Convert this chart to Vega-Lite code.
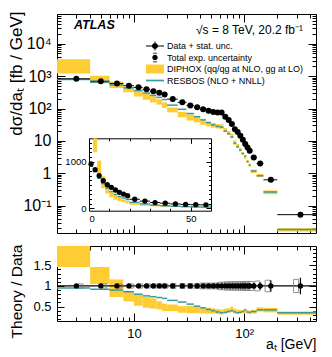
{
  "$schema": "https://vega.github.io/schema/vega-lite/v6.json",
  "background": "white",
  "padding": {"left": 6, "top": 10, "right": 5, "bottom": 5},
  "config": {
    "font": "Liberation Sans",
    "view": {"stroke": "black", "strokeWidth": 1},
    "axis": {"domain": false, "grid": false, "labelColor": "black", "titleColor": "black", "tickColor": "black", "titleFontWeight": "normal", "tickWidth": 1, "domainColor": "black", "domainWidth": 1},
    "title": {"font": "Liberation Sans"}
  },
  "datasets": {
    "bins": [
      {"lo": 0, "hi": 2, "c": 1, "v": 950, "dlo": null, "dhi": null, "res": 900, "rdlo": null, "rdhi": null, "rres": null, "elo": null, "ehi": null, "tlo": null, "thi": null},
      {"lo": 2, "hi": 4, "c": 3, "v": 828, "dlo": 1209, "dhi": 3312, "res": 787, "rdlo": 1.46, "rdhi": 4.0, "rres": 0.95, "elo": 0.99, "ehi": 1.01, "tlo": 0.95, "thi": 1.05},
      {"lo": 4, "hi": 6, "c": 5, "v": 700, "dlo": 735, "dhi": 1022, "res": 644, "rdlo": 1.05, "rdhi": 1.46, "rres": 0.92, "elo": 0.99, "ehi": 1.01, "tlo": 0.95, "thi": 1.05},
      {"lo": 6, "hi": 8, "c": 7, "v": 592, "dlo": 432, "dhi": 687, "res": 533, "rdlo": 0.73, "rdhi": 1.16, "rres": 0.90, "elo": 0.99, "ehi": 1.01, "tlo": 0.95, "thi": 1.05},
      {"lo": 8, "hi": 10, "c": 9, "v": 506, "dlo": 319, "dhi": 440, "res": 435, "rdlo": 0.63, "rdhi": 0.87, "rres": 0.86, "elo": 0.99, "ehi": 1.01, "tlo": 0.95, "thi": 1.05},
      {"lo": 10, "hi": 12, "c": 11, "v": 450, "dlo": 234, "dhi": 356, "res": 360, "rdlo": 0.52, "rdhi": 0.79, "rres": 0.80, "elo": 0.99, "ehi": 1.01, "tlo": 0.95, "thi": 1.05},
      {"lo": 12, "hi": 14, "c": 13, "v": 393, "dlo": 185, "dhi": 287, "res": 299, "rdlo": 0.47, "rdhi": 0.73, "rres": 0.76, "elo": 0.99, "ehi": 1.01, "tlo": 0.95, "thi": 1.05},
      {"lo": 14, "hi": 16, "c": 15, "v": 343, "dlo": 154, "dhi": 240, "res": 254, "rdlo": 0.45, "rdhi": 0.70, "rres": 0.74, "elo": 0.99, "ehi": 1.01, "tlo": 0.95, "thi": 1.05},
      {"lo": 16, "hi": 18, "c": 17, "v": 307, "dlo": 132, "dhi": 193, "res": 221, "rdlo": 0.43, "rdhi": 0.63, "rres": 0.72, "elo": 0.99, "ehi": 1.01, "tlo": 0.95, "thi": 1.05},
      {"lo": 18, "hi": 20, "c": 19, "v": 270, "dlo": 105, "dhi": 154, "res": 189, "rdlo": 0.39, "rdhi": 0.57, "rres": 0.70, "elo": 0.99, "ehi": 1.01, "tlo": 0.95, "thi": 1.05},
      {"lo": 20, "hi": 25, "c": 22.5, "v": 195, "dlo": 76, "dhi": 107, "res": 127, "rdlo": 0.39, "rdhi": 0.55, "rres": 0.65, "elo": 0.985, "ehi": 1.015, "tlo": 0.94, "thi": 1.06},
      {"lo": 25, "hi": 30, "c": 27.5, "v": 155, "dlo": 54, "dhi": 79, "res": 94.6, "rdlo": 0.35, "rdhi": 0.51, "rres": 0.61, "elo": 0.985, "ehi": 1.015, "tlo": 0.94, "thi": 1.06},
      {"lo": 30, "hi": 35, "c": 32.5, "v": 125, "dlo": 42.5, "dhi": 65, "res": 70, "rdlo": 0.34, "rdhi": 0.52, "rres": 0.56, "elo": 0.985, "ehi": 1.015, "tlo": 0.94, "thi": 1.06},
      {"lo": 35, "hi": 40, "c": 37.5, "v": 110, "dlo": 37.4, "dhi": 55, "res": 56, "rdlo": 0.34, "rdhi": 0.50, "rres": 0.51, "elo": 0.985, "ehi": 1.015, "tlo": 0.94, "thi": 1.06},
      {"lo": 40, "hi": 45, "c": 42.5, "v": 95, "dlo": 31.4, "dhi": 45.6, "res": 44.7, "rdlo": 0.33, "rdhi": 0.48, "rres": 0.47, "elo": 0.98, "ehi": 1.02, "tlo": 0.93, "thi": 1.07},
      {"lo": 45, "hi": 50, "c": 47.5, "v": 85, "dlo": 28, "dhi": 40, "res": 36.6, "rdlo": 0.33, "rdhi": 0.47, "rres": 0.43, "elo": 0.98, "ehi": 1.02, "tlo": 0.93, "thi": 1.07},
      {"lo": 50, "hi": 55, "c": 52.5, "v": 78, "dlo": 25.7, "dhi": 35.9, "res": 31.2, "rdlo": 0.33, "rdhi": 0.46, "rres": 0.40, "elo": 0.98, "ehi": 1.02, "tlo": 0.93, "thi": 1.07},
      {"lo": 55, "hi": 60, "c": 57.5, "v": 76, "dlo": 24.3, "dhi": 33.4, "res": 28.1, "rdlo": 0.32, "rdhi": 0.44, "rres": 0.37, "elo": 0.98, "ehi": 1.02, "tlo": 0.93, "thi": 1.07},
      {"lo": 60, "hi": 65, "c": 62.5, "v": 76, "dlo": 23.6, "dhi": 32.7, "res": 26.6, "rdlo": 0.31, "rdhi": 0.43, "rres": 0.35, "elo": 0.975, "ehi": 1.025, "tlo": 0.91, "thi": 1.09},
      {"lo": 65, "hi": 70, "c": 67.5, "v": 56, "dlo": 18.5, "dhi": 25.2, "res": 20.2, "rdlo": 0.33, "rdhi": 0.45, "rres": 0.36, "elo": 0.975, "ehi": 1.025, "tlo": 0.91, "thi": 1.09},
      {"lo": 70, "hi": 75, "c": 72.5, "v": 44, "dlo": 15.4, "dhi": 20.2, "res": 16.7, "rdlo": 0.35, "rdhi": 0.46, "rres": 0.38, "elo": 0.97, "ehi": 1.03, "tlo": 0.9, "thi": 1.1},
      {"lo": 75, "hi": 80, "c": 77.5, "v": 33, "dlo": 12.2, "dhi": 16.5, "res": 13.2, "rdlo": 0.37, "rdhi": 0.50, "rres": 0.40, "elo": 0.97, "ehi": 1.03, "tlo": 0.9, "thi": 1.1},
      {"lo": 80, "hi": 85, "c": 82.5, "v": 23, "dlo": 7.6, "dhi": 10.4, "res": 8.5, "rdlo": 0.33, "rdhi": 0.45, "rres": 0.37, "elo": 0.97, "ehi": 1.03, "tlo": 0.9, "thi": 1.1},
      {"lo": 85, "hi": 90, "c": 87.5, "v": 18.8, "dlo": 6.0, "dhi": 8.1, "res": 6.6, "rdlo": 0.32, "rdhi": 0.43, "rres": 0.35, "elo": 0.965, "ehi": 1.035, "tlo": 0.9, "thi": 1.1},
      {"lo": 90, "hi": 95, "c": 92.5, "v": 14.5, "dlo": 4.8, "dhi": 6.1, "res": 5.2, "rdlo": 0.33, "rdhi": 0.42, "rres": 0.36, "elo": 0.96, "ehi": 1.04, "tlo": 0.9, "thi": 1.1},
      {"lo": 95, "hi": 100, "c": 97.5, "v": 10.8, "dlo": 3.7, "dhi": 4.5, "res": 4.1, "rdlo": 0.34, "rdhi": 0.42, "rres": 0.38, "elo": 0.96, "ehi": 1.04, "tlo": 0.9, "thi": 1.1},
      {"lo": 100, "hi": 105, "c": 102.5, "v": 8.0, "dlo": 2.8, "dhi": 3.4, "res": 3.4, "rdlo": 0.35, "rdhi": 0.43, "rres": 0.42, "elo": 0.95, "ehi": 1.05, "tlo": 0.9, "thi": 1.1},
      {"lo": 105, "hi": 110, "c": 107.5, "v": 6.3, "dlo": 2.1, "dhi": 2.6, "res": 2.3, "rdlo": 0.33, "rdhi": 0.41, "rres": 0.37, "elo": 0.95, "ehi": 1.05, "tlo": 0.9, "thi": 1.1},
      {"lo": 110, "hi": 115, "c": 112.5, "v": 5.0, "dlo": 1.6, "dhi": 2.0, "res": 1.8, "rdlo": 0.32, "rdhi": 0.40, "rres": 0.36, "elo": 0.94, "ehi": 1.06, "tlo": 0.89, "thi": 1.11},
      {"lo": 115, "hi": 130, "c": 122.5, "v": 3.1, "dlo": 1.02, "dhi": 1.30, "res": 1.18, "rdlo": 0.33, "rdhi": 0.42, "rres": 0.38, "elo": 0.93, "ehi": 1.07, "tlo": 0.89, "thi": 1.11},
      {"lo": 130, "hi": 150, "c": 140, "v": 2.0, "dlo": 0.76, "dhi": 0.96, "res": 0.84, "rdlo": 0.38, "rdhi": 0.48, "rres": 0.42, "elo": 0.91, "ehi": 1.09, "tlo": 0.88, "thi": 1.12},
      {"lo": 150, "hi": 200, "c": 175, "v": 0.63, "dlo": 0.227, "dhi": 0.296, "res": 0.265, "rdlo": 0.36, "rdhi": 0.47, "rres": 0.42, "elo": 0.86, "ehi": 1.14, "tlo": 0.86, "thi": 1.14},
      {"lo": 200, "hi": 450, "c": 325, "v": 0.053, "dlo": 0.0159, "dhi": 0.0201, "res": 0.0186, "rdlo": 0.30, "rdhi": 0.38, "rres": 0.35, "elo": 0.8, "ehi": 1.2, "tlo": 0.84, "thi": 1.16}
    ],
    "legend": [
      {"series": "Data + stat. unc."},
      {"series": "Total exp. uncertainty"},
      {"series": "DIPHOX (qq/qg at NLO, gg at LO)"},
      {"series": "RESBOS (NLO + NNLL)"}
    ],
    "one": [{"x": 10, "y": 1}],
    "insetone": [{"x": 30, "y": 500}]
  },
  "spacing": 9,
  "vconcat": [
    {
      "width": 259,
      "height": 219,
      "title": {"text": "ATLAS", "frame": "group", "anchor": "start", "offset": -26, "dx": 17, "baseline": "middle", "fontSize": 12.5, "fontStyle": "italic", "fontWeight": "bold", "color": "black", "font": "Liberation Sans"},
      "layer": [
        {
          "data": {"name": "bins"},
          "transform": [{"filter": "datum.lo >= 2"}],
          "mark": {"type": "rect", "color": "#ffcc33"},
          "encoding": {
            "x": {"field": "lo", "type": "quantitative", "scale": {"type": "log", "domain": [2, 450], "nice": false}, "axis": null},
            "x2": {"field": "hi"},
            "y": {"field": "dlo", "type": "quantitative", "scale": {"type": "log", "domain": [0.0144, 82600], "nice": false},
              "axis": {"orient": "left", "values": [0.1, 1, 10, 100, 1000, 10000], "ticks": false,
                "labelExpr": "datum.value === 0.1 ? '10⁻¹' : datum.value === 1 ? '1' : datum.value === 10 ? '10' : datum.value === 100 ? '10²' : datum.value === 1000 ? '10³' : '10⁴'",
                "labelFontSize": 16, "labelPadding": 6, "labelFont": "Liberation Sans",
                "title": "dσ/daₜ [fb / GeV]", "titleFont": "Liberation Sans", "titleFontSize": 17, "titleAnchor": "end", "titleX": -41, "titleY": -3, "titleBaseline": "middle"}},
            "y2": {"field": "dhi"}
          }
        },
        {
          "data": {"name": "bins"},
          "transform": [{"filter": "datum.lo >= 2"}],
          "mark": {"type": "rule", "color": "#3a9a9a", "strokeWidth": 1.5},
          "encoding": {
            "x": {"field": "lo", "type": "quantitative", "scale": {"type": "log", "domain": [2, 450], "nice": false}, "axis": null},
            "x2": {"field": "hi"},
            "y": {"field": "res", "type": "quantitative", "scale": {"type": "log", "domain": [0.0144, 82600], "nice": false}, "axis": null}
          }
        },
        {
          "data": {"name": "bins"},
          "transform": [{"filter": "datum.lo >= 2"}],
          "mark": {"type": "rule", "color": "black", "strokeWidth": 1},
          "encoding": {
            "x": {"field": "lo", "type": "quantitative", "scale": {"type": "log", "domain": [2, 450], "nice": false}, "axis": null},
            "x2": {"field": "hi"},
            "y": {"field": "v", "type": "quantitative", "scale": {"type": "log", "domain": [0.0144, 82600], "nice": false}, "axis": null}
          }
        },
        {
          "data": {"name": "bins"},
          "transform": [{"filter": "datum.lo >= 2"}],
          "mark": {"type": "point", "filled": true, "color": "black", "size": 36, "opacity": 1},
          "encoding": {
            "x": {"field": "c", "type": "quantitative", "scale": {"type": "log", "domain": [2, 450], "nice": false}, "axis": null},
            "y": {"field": "v", "type": "quantitative", "scale": {"type": "log", "domain": [0.0144, 82600], "nice": false}, "axis": null}
          }
        },
        {
          "data": {"name": "legend"},
          "mark": {"type": "point", "filled": true, "opacity": 0},
          "encoding": {
            "color": {"field": "series", "type": "nominal",
              "scale": {"domain": ["Data + stat. unc.", "Total exp. uncertainty", "DIPHOX (qq/qg at NLO, gg at LO)", "RESBOS (NLO + NNLL)"], "range": ["black", "black", "#ffcc33", "#3a9a9a"]},
              "legend": {"orient": "none", "legendX": 92, "legendY": 11, "title": "√s = 8 TeV, 20.2 fb⁻¹", "titleFont": "Liberation Sans", "titleFontSize": 12, "titleFontWeight": "normal", "titleAnchor": "end", "titlePadding": 3, "titleLimit": 400, "titleColor": "black", "labelFont": "Liberation Sans", "labelFontSize": 9, "labelOffset": 6, "labelLimit": 400, "labelColor": "black", "symbolSize": 144, "symbolStrokeWidth": 0, "symbolOpacity": 1, "rowPadding": 0.5, "padding": 0}},
            "shape": {"field": "series", "type": "nominal",
              "scale": {"domain": ["Data + stat. unc.", "Total exp. uncertainty", "DIPHOX (qq/qg at NLO, gg at LO)", "RESBOS (NLO + NNLL)"],
                "range": ["M-1.5,-0.08H1.5V0.08H-1.5ZM-0.08,-0.75H0.08V0.75H-0.08ZM0.5,0A0.5,0.5 0 1 1 -0.5,0A0.5,0.5 0 1 1 0.5,0Z",
                          "M0.45,0A0.45,0.45 0 1 1 -0.45,0A0.45,0.45 0 1 1 0.45,0ZM-0.35,-0.8H0.35V-0.68H-0.35ZM-0.35,0.68H0.35V0.8H-0.35Z",
                          "M-1.5,-0.75H1.5V0.75H-1.5Z",
                          "M-1.5,-0.14H1.5V0.14H-1.5Z"]},
              "legend": {"orient": "none", "legendX": 92, "legendY": 11, "title": "√s = 8 TeV, 20.2 fb⁻¹", "titleFont": "Liberation Sans", "titleFontSize": 12, "titleFontWeight": "normal", "titleAnchor": "end", "titlePadding": 3, "titleLimit": 400, "titleColor": "black", "labelFont": "Liberation Sans", "labelFontSize": 9, "labelOffset": 6, "labelLimit": 400, "labelColor": "black", "symbolSize": 144, "symbolStrokeWidth": 0, "symbolOpacity": 1, "rowPadding": 0.5, "padding": 0}}
          }
        },
        {
          "data": {"name": "one"},
          "mark": {"type": "point", "opacity": 0},
          "encoding": {
            "x": {"field": "x", "type": "quantitative", "scale": {"type": "log", "domain": [2, 450], "nice": false},
              "axis": {"orient": "bottom", "values": [10, 100], "labels": false, "title": null, "tickSize": -8}},
            "y": {"field": "y", "type": "quantitative", "scale": {"type": "log", "domain": [0.0144, 82600], "nice": false},
              "axis": {"orient": "left", "values": [0.1, 1, 10, 100, 1000, 10000], "labels": false, "title": null, "tickSize": -8}}
          }
        },
        {
          "data": {"name": "one"},
          "mark": {"type": "point", "opacity": 0},
          "encoding": {
            "x": {"field": "x", "type": "quantitative", "scale": {"type": "log", "domain": [2, 450], "nice": false},
              "axis": {"orient": "top", "values": [10, 100], "labels": false, "title": null, "tickSize": -8}},
            "y": {"field": "y", "type": "quantitative", "scale": {"type": "log", "domain": [0.0144, 82600], "nice": false},
              "axis": {"orient": "right", "values": [0.1, 1, 10, 100, 1000, 10000], "labels": false, "title": null, "tickSize": -8}}
          }
        },
        {
          "data": {"name": "one"},
          "mark": {"type": "point", "opacity": 0},
          "encoding": {
            "x": {"field": "x", "type": "quantitative", "scale": {"type": "log", "domain": [2, 450], "nice": false},
              "axis": {"orient": "bottom", "values": [3,4,5,6,7,8,9,20,30,40,50,60,70,80,90,200,300,400], "labels": false, "title": null, "tickSize": -4}},
            "y": {"field": "y", "type": "quantitative", "scale": {"type": "log", "domain": [0.0144, 82600], "nice": false},
              "axis": {"orient": "left", "values": [0.02,0.03,0.04,0.05,0.06,0.07,0.08,0.09,0.2,0.3,0.4,0.5,0.6,0.7,0.8,0.9,2,3,4,5,6,7,8,9,20,30,40,50,60,70,80,90,200,300,400,500,600,700,800,900,2000,3000,4000,5000,6000,7000,8000,9000,20000,30000,40000,50000,60000,70000,80000], "labels": false, "title": null, "tickSize": -4}}
          }
        },
        {
          "data": {"name": "one"},
          "mark": {"type": "point", "opacity": 0},
          "encoding": {
            "x": {"field": "x", "type": "quantitative", "scale": {"type": "log", "domain": [2, 450], "nice": false},
              "axis": {"orient": "top", "values": [3,4,5,6,7,8,9,20,30,40,50,60,70,80,90,200,300,400], "labels": false, "title": null, "tickSize": -4}},
            "y": {"field": "y", "type": "quantitative", "scale": {"type": "log", "domain": [0.0144, 82600], "nice": false},
              "axis": {"orient": "right", "values": [0.02,0.03,0.04,0.05,0.06,0.07,0.08,0.09,0.2,0.3,0.4,0.5,0.6,0.7,0.8,0.9,2,3,4,5,6,7,8,9,20,30,40,50,60,70,80,90,200,300,400,500,600,700,800,900,2000,3000,4000,5000,6000,7000,8000,9000,20000,30000,40000,50000,60000,70000,80000], "labels": false, "title": null, "tickSize": -4}}
          }
        },
        {
          "data": {"name": "bins"},
          "transform": [{"filter": "datum.hi <= 60"}],
          "mark": {"type": "rect", "color": "#ffcc33"},
          "encoding": {
            "x": {"field": "lo", "type": "quantitative", "scale": {"type": "linear", "domain": [0, 60], "range": [32, 154], "nice": false, "zero": false},
              "axis": {"orient": "bottom", "offset": -22.3, "values": [0, 50], "ticks": false, "labelFont": "Liberation Sans", "labelFontSize": 9.5, "labelPadding": 2.5, "domain": true, "title": null}},
            "x2": {"field": "hi"},
            "y": {"field": "dlo", "type": "quantitative", "scale": {"type": "linear", "domain": [-50, 1500], "range": [196.7, 124.3], "nice": false, "zero": false, "clamp": true},
              "axis": {"orient": "left", "offset": -32, "values": [0, 1000], "format": "d", "ticks": false, "labelFont": "Liberation Sans", "labelFontSize": 9.5, "labelPadding": 3, "domain": true, "title": null}},
            "y2": {"field": "dhi"}
          }
        },
        {
          "data": {"name": "bins"},
          "transform": [{"filter": "datum.hi <= 60"}],
          "mark": {"type": "rule", "color": "#3a9a9a", "strokeWidth": 1.5},
          "encoding": {
            "x": {"field": "lo", "type": "quantitative", "scale": {"type": "linear", "domain": [0, 60], "range": [32, 154], "nice": false, "zero": false}, "axis": null},
            "x2": {"field": "hi"},
            "y": {"field": "res", "type": "quantitative", "scale": {"type": "linear", "domain": [-50, 1500], "range": [196.7, 124.3], "nice": false, "zero": false, "clamp": true}, "axis": null}
          }
        },
        {
          "data": {"name": "bins"},
          "transform": [{"filter": "datum.hi <= 60"}],
          "mark": {"type": "rule", "color": "black", "strokeWidth": 1},
          "encoding": {
            "x": {"field": "lo", "type": "quantitative", "scale": {"type": "linear", "domain": [0, 60], "range": [32, 154], "nice": false, "zero": false}, "axis": null},
            "x2": {"field": "hi"},
            "y": {"field": "v", "type": "quantitative", "scale": {"type": "linear", "domain": [-50, 1500], "range": [196.7, 124.3], "nice": false, "zero": false, "clamp": true}, "axis": null}
          }
        },
        {
          "data": {"name": "bins"},
          "transform": [{"filter": "datum.hi <= 60"}],
          "mark": {"type": "point", "filled": true, "color": "black", "size": 28, "opacity": 1},
          "encoding": {
            "x": {"field": "c", "type": "quantitative", "scale": {"type": "linear", "domain": [0, 60], "range": [32, 154], "nice": false, "zero": false}, "axis": null},
            "y": {"field": "v", "type": "quantitative", "scale": {"type": "linear", "domain": [-50, 1500], "range": [196.7, 124.3], "nice": false, "zero": false, "clamp": true}, "axis": null}
          }
        },
        {
          "data": {"name": "insetone"},
          "mark": {"type": "point", "opacity": 0},
          "encoding": {
            "x": {"field": "x", "type": "quantitative", "scale": {"type": "linear", "domain": [0, 60], "range": [32, 154], "nice": false, "zero": false},
              "axis": {"orient": "top", "offset": -124.3, "values": [0, 50], "labels": false, "title": null, "domain": true, "tickSize": -5}},
            "y": {"field": "y", "type": "quantitative", "scale": {"type": "linear", "domain": [-50, 1500], "range": [196.7, 124.3], "nice": false, "zero": false},
              "axis": {"orient": "right", "offset": -105, "values": [0, 1000], "labels": false, "title": null, "domain": true, "tickSize": -5}}
          }
        },
        {
          "data": {"name": "insetone"},
          "mark": {"type": "point", "opacity": 0},
          "encoding": {
            "x": {"field": "x", "type": "quantitative", "scale": {"type": "linear", "domain": [0, 60], "range": [32, 154], "nice": false, "zero": false},
              "axis": {"orient": "bottom", "offset": -22.3, "values": [0, 50], "labels": false, "title": null, "tickSize": -5}},
            "y": {"field": "y", "type": "quantitative", "scale": {"type": "linear", "domain": [-50, 1500], "range": [196.7, 124.3], "nice": false, "zero": false},
              "axis": {"orient": "left", "offset": -32, "values": [0, 1000], "labels": false, "title": null, "tickSize": -5}}
          }
        },
        {
          "data": {"name": "insetone"},
          "mark": {"type": "point", "opacity": 0},
          "encoding": {
            "x": {"field": "x", "type": "quantitative", "scale": {"type": "linear", "domain": [0, 60], "range": [32, 154], "nice": false, "zero": false},
              "axis": {"orient": "bottom", "offset": -22.3, "values": [10, 20, 30, 40], "labels": false, "title": null, "tickSize": -2.5}},
            "y": {"field": "y", "type": "quantitative", "scale": {"type": "linear", "domain": [-50, 1500], "range": [196.7, 124.3], "nice": false, "zero": false},
              "axis": {"orient": "left", "offset": -32, "values": [100,200,300,400,500,600,700,800,900,1100,1200,1300,1400], "labels": false, "title": null, "tickSize": -2.5}}
          }
        },
        {
          "data": {"name": "insetone"},
          "mark": {"type": "point", "opacity": 0},
          "encoding": {
            "x": {"field": "x", "type": "quantitative", "scale": {"type": "linear", "domain": [0, 60], "range": [32, 154], "nice": false, "zero": false},
              "axis": {"orient": "top", "offset": -124.3, "values": [10, 20, 30, 40], "labels": false, "title": null, "tickSize": -2.5}},
            "y": {"field": "y", "type": "quantitative", "scale": {"type": "linear", "domain": [-50, 1500], "range": [196.7, 124.3], "nice": false, "zero": false},
              "axis": {"orient": "right", "offset": -105, "values": [100,200,300,400,500,600,700,800,900,1100,1200,1300,1400], "labels": false, "title": null, "tickSize": -2.5}}
          }
        }
      ],
      "resolve": {"scale": {"x": "independent", "y": "independent"}}
    },
    {
      "width": 259,
      "height": 75,
      "layer": [
        {
          "data": {"name": "bins"},
          "transform": [{"filter": "datum.lo >= 2"}],
          "mark": {"type": "rect", "color": "#ffcc33"},
          "encoding": {
            "x": {"field": "lo", "type": "quantitative", "scale": {"type": "log", "domain": [2, 450], "nice": false},
              "axis": {"orient": "bottom", "values": [10, 100], "ticks": false,
                "labelExpr": "datum.value === 10 ? '10' : '10²'", "labelFont": "Liberation Sans", "labelFontSize": 13, "labelPadding": 6,
                "title": "aₜ [GeV]", "titleFont": "Liberation Sans", "titleFontSize": 14, "titleAnchor": "end", "titleY": 23, "titleBaseline": "middle"}},
            "x2": {"field": "hi"},
            "y": {"field": "rdlo", "type": "quantitative", "scale": {"type": "linear", "domain": [0.15, 1.97], "nice": false, "zero": false, "clamp": true},
              "axis": {"orient": "left", "values": [0.5, 1, 1.5], "ticks": false,
                "labelExpr": "datum.value === 0.5 ? '0.5' : datum.value === 1 ? '1' : '1.5'", "labelFont": "Liberation Sans", "labelFontSize": 13, "labelPadding": 6,
                "title": "Theory / Data", "titleFont": "Liberation Sans", "titleFontSize": 15.5, "titleAnchor": "end", "titleX": -41, "titleY": -2, "titleBaseline": "middle"}},
            "y2": {"field": "rdhi"}
          }
        },
        {
          "data": {"name": "bins"},
          "transform": [{"filter": "datum.lo >= 2"}],
          "mark": {"type": "rule", "color": "#3a9a9a", "strokeWidth": 1.5},
          "encoding": {
            "x": {"field": "lo", "type": "quantitative", "scale": {"type": "log", "domain": [2, 450], "nice": false}, "axis": null},
            "x2": {"field": "hi"},
            "y": {"field": "rres", "type": "quantitative", "scale": {"type": "linear", "domain": [0.15, 1.97], "nice": false, "zero": false, "clamp": true}, "axis": null}
          }
        },
        {
          "data": {"name": "one"},
          "mark": {"type": "rule", "color": "black", "strokeWidth": 1.2},
          "encoding": {
            "y": {"datum": 1, "type": "quantitative", "scale": {"type": "linear", "domain": [0.15, 1.97], "nice": false, "zero": false, "clamp": true}, "axis": null}
          }
        },
        {
          "data": {"name": "bins"},
          "transform": [{"filter": "datum.lo >= 2"}],
          "mark": {"type": "bar", "size": 5, "fillOpacity": 0, "stroke": "#777777", "strokeWidth": 0.8},
          "encoding": {
            "x": {"field": "c", "type": "quantitative", "scale": {"type": "log", "domain": [2, 450], "nice": false}, "axis": null},
            "y": {"field": "tlo", "type": "quantitative", "scale": {"type": "linear", "domain": [0.15, 1.97], "nice": false, "zero": false, "clamp": true}, "axis": null},
            "y2": {"field": "thi"}
          }
        },
        {
          "data": {"name": "bins"},
          "transform": [{"filter": "datum.lo >= 2"}],
          "mark": {"type": "rule", "color": "black", "strokeWidth": 1.2},
          "encoding": {
            "x": {"field": "c", "type": "quantitative", "scale": {"type": "log", "domain": [2, 450], "nice": false}, "axis": null},
            "y": {"field": "elo", "type": "quantitative", "scale": {"type": "linear", "domain": [0.15, 1.97], "nice": false, "zero": false, "clamp": true}, "axis": null},
            "y2": {"field": "ehi"}
          }
        },
        {
          "data": {"name": "bins"},
          "transform": [{"filter": "datum.lo >= 2"}],
          "mark": {"type": "point", "filled": true, "color": "black", "size": 28, "opacity": 1},
          "encoding": {
            "x": {"field": "c", "type": "quantitative", "scale": {"type": "log", "domain": [2, 450], "nice": false}, "axis": null},
            "y": {"datum": 1, "type": "quantitative", "scale": {"type": "linear", "domain": [0.15, 1.97], "nice": false, "zero": false, "clamp": true}, "axis": null}
          }
        },
        {
          "data": {"name": "one"},
          "mark": {"type": "point", "opacity": 0},
          "encoding": {
            "x": {"field": "x", "type": "quantitative", "scale": {"type": "log", "domain": [2, 450], "nice": false},
              "axis": {"orient": "bottom", "values": [10, 100], "labels": false, "title": null, "tickSize": -8}},
            "y": {"field": "y", "type": "quantitative", "scale": {"type": "linear", "domain": [0.15, 1.97], "nice": false, "zero": false},
              "axis": {"orient": "left", "values": [0.5, 1, 1.5], "labels": false, "title": null, "tickSize": -7}}
          }
        },
        {
          "data": {"name": "one"},
          "mark": {"type": "point", "opacity": 0},
          "encoding": {
            "x": {"field": "x", "type": "quantitative", "scale": {"type": "log", "domain": [2, 450], "nice": false},
              "axis": {"orient": "top", "values": [10, 100], "labels": false, "title": null, "tickSize": -8}},
            "y": {"field": "y", "type": "quantitative", "scale": {"type": "linear", "domain": [0.15, 1.97], "nice": false, "zero": false},
              "axis": {"orient": "right", "values": [0.5, 1, 1.5], "labels": false, "title": null, "tickSize": -7}}
          }
        },
        {
          "data": {"name": "one"},
          "mark": {"type": "point", "opacity": 0},
          "encoding": {
            "x": {"field": "x", "type": "quantitative", "scale": {"type": "log", "domain": [2, 450], "nice": false},
              "axis": {"orient": "bottom", "values": [3,4,5,6,7,8,9,20,30,40,50,60,70,80,90,200,300,400], "labels": false, "title": null, "tickSize": -4}},
            "y": {"field": "y", "type": "quantitative", "scale": {"type": "linear", "domain": [0.15, 1.97], "nice": false, "zero": false},
              "axis": {"orient": "left", "values": [0.2,0.3,0.4,0.6,0.7,0.8,0.9,1.1,1.2,1.3,1.4,1.6,1.7,1.8,1.9], "labels": false, "title": null, "tickSize": -3.5}}
          }
        },
        {
          "data": {"name": "one"},
          "mark": {"type": "point", "opacity": 0},
          "encoding": {
            "x": {"field": "x", "type": "quantitative", "scale": {"type": "log", "domain": [2, 450], "nice": false},
              "axis": {"orient": "top", "values": [3,4,5,6,7,8,9,20,30,40,50,60,70,80,90,200,300,400], "labels": false, "title": null, "tickSize": -4}},
            "y": {"field": "y", "type": "quantitative", "scale": {"type": "linear", "domain": [0.15, 1.97], "nice": false, "zero": false},
              "axis": {"orient": "right", "values": [0.2,0.3,0.4,0.6,0.7,0.8,0.9,1.1,1.2,1.3,1.4,1.6,1.7,1.8,1.9], "labels": false, "title": null, "tickSize": -3.5}}
          }
        }
      ],
      "resolve": {"scale": {"x": "independent", "y": "independent"}}
    }
  ]
}
